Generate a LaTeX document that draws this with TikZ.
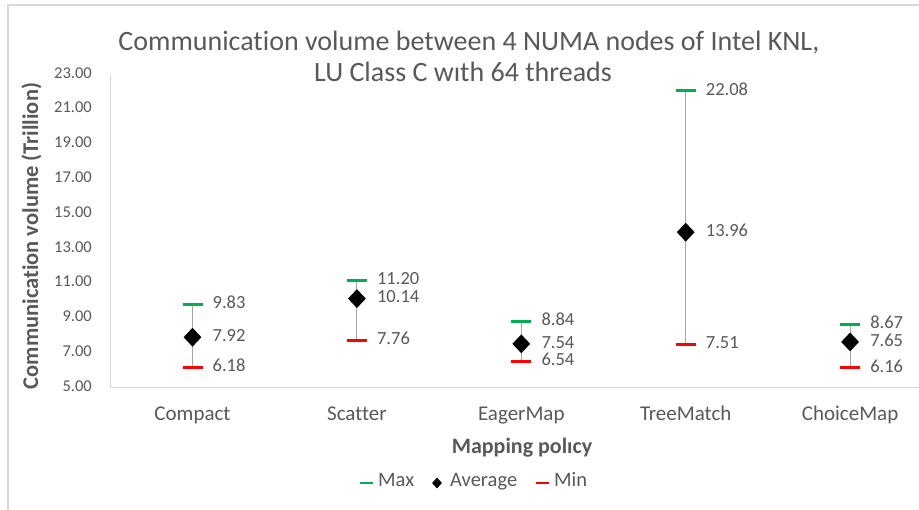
\documentclass[tikz,border=0pt]{standalone}
\usepackage{fontspec}
\setmainfont{Carlito}[Ligatures={NoCommon}]
\usetikzlibrary{shapes.geometric}
\definecolor{txt}{HTML}{595959}
\definecolor{axisgrey}{HTML}{D9D9D9}
\definecolor{bargrey}{HTML}{A6A6A6}
\definecolor{maxgreen}{HTML}{00B050}
\definecolor{minred}{HTML}{FF0000}
\newcommand\fsz[1]{\fontsize{#1}{#1}\selectfont}
\begin{document}
\begin{tikzpicture}[x=1pt,y=-1pt,
  txtstyle/.style={text=txt,inner sep=0pt,text height=0.64em,text depth=0pt},
  ticklabel/.style={txtstyle,anchor=east,font=\fsz{16.5}},
  catlabel/.style={txtstyle,font=\fsz{21}},
  vallabel/.style={txtstyle,anchor=west,font=\fsz{18.5}},
  legtext/.style={txtstyle,anchor=west,font=\fsz{20.5}},
  errbar/.style={bargrey,line width=1pt},
  maxcap/.style={maxgreen,line width=3pt},
  mincap/.style={minred,line width=3pt},
  avgmark/.style={diamond,fill=black,inner sep=0pt,minimum width=18pt,minimum height=19pt},
  legmark/.style={diamond,fill=black,inner sep=0pt,minimum width=10pt,minimum height=11pt},
  axisline/.style={axisgrey,line width=1pt}]
\useasboundingbox (0,0) rectangle (919,510);
\fill[white] (0,0) rectangle (919,510);

% chart frame
\draw[axisgrey,line width=1.2pt] (8,530) -- (8,5) -- (940,5);

% title
\node[text=txt,inner sep=0pt,anchor=base,font=\fsz{28}] (title1) at (469,51) {Communication volume between 4 NUMA nodes of Intel KNL,};
\node[text=txt,inner sep=0pt,anchor=base,font=\fsz{28}] (title2) at (463,82) {LU Class C wıth 64 threads};

% axes
\coordinate (ytop) at (110,75);
\coordinate (origin) at (110,388);
\coordinate (xend) at (940,388);
\draw[axisline] (ytop) -- (origin) -- (xend);

% y tick labels
\foreach \v/\s in {5/5.00,7/7.00,9/9.00,11/11.00,13/13.00,15/15.00,17/17.00,19/19.00,21/21.00,23/23.00}
  \node[ticklabel] (tick\v) at (92,{388-(\v-5)*17.3889}) {\s};

% axis titles
\node[txtstyle,rotate=90,font=\bfseries\fsz{22.5}] (ytitle) at (35,236) {Communication volume (Trillion)};
\node[txtstyle,font=\bfseries\fsz{22}] (xtitle) at (522,450) {Mapping polıcy};

% error bars: name / x / max / average / min / category
\foreach \n/\x/\mx/\av/\mn/\cat in {
    compact/192.5/9.83/7.92/6.18/Compact,
    scatter/356.9/11.20/10.14/7.76/Scatter,
    eager/521.3/8.84/7.54/6.54/EagerMap,
    tree/685.7/22.08/13.96/7.51/TreeMatch,
    choice/850.1/8.67/7.65/6.16/ChoiceMap}{
  \coordinate (\n-max) at (\x,{388-(\mx-5)*17.3889});
  \coordinate (\n-min) at (\x,{388-(\mn-5)*17.3889});
  \draw[errbar] (\n-max) -- (\n-min);
  \draw[maxcap] ([xshift=-10pt]\n-max) -- ([xshift=10pt]\n-max);
  \draw[mincap] ([xshift=-10pt]\n-min) -- ([xshift=10pt]\n-min);
  \node[avgmark] (\n-avg) at (\x,{388-(\av-5)*17.3889}) {};
  \node[vallabel] (\n-maxlab) at ([xshift=20pt,yshift=-1pt]\n-max) {\mx};
  \node[vallabel] (\n-avglab) at ([xshift=20pt,yshift=-1pt]\n-avg.center) {\av};
  \node[vallabel] (\n-minlab) at ([xshift=20pt,yshift=-1pt]\n-min) {\mn};
  \node[catlabel] (\n-cat) at (\x,417) {\cat};
}

% legend
\coordinate (lmaxa) at (360,483);
\coordinate (lmaxb) at (373,483);
\draw[maxgreen,line width=2.7pt] (lmaxa) -- (lmaxb);
\node[legtext] (lmax) at (378,483) {Max};
\node[legmark] (lavgmark) at (437,483) {};
\node[legtext] (lavg) at (450,483) {Average};
\coordinate (lmina) at (536,483);
\coordinate (lminb) at (549,483);
\draw[minred,line width=2.7pt] (lmina) -- (lminb);
\node[legtext] (lmin) at (554,483) {Min};
\end{tikzpicture}
\end{document}
